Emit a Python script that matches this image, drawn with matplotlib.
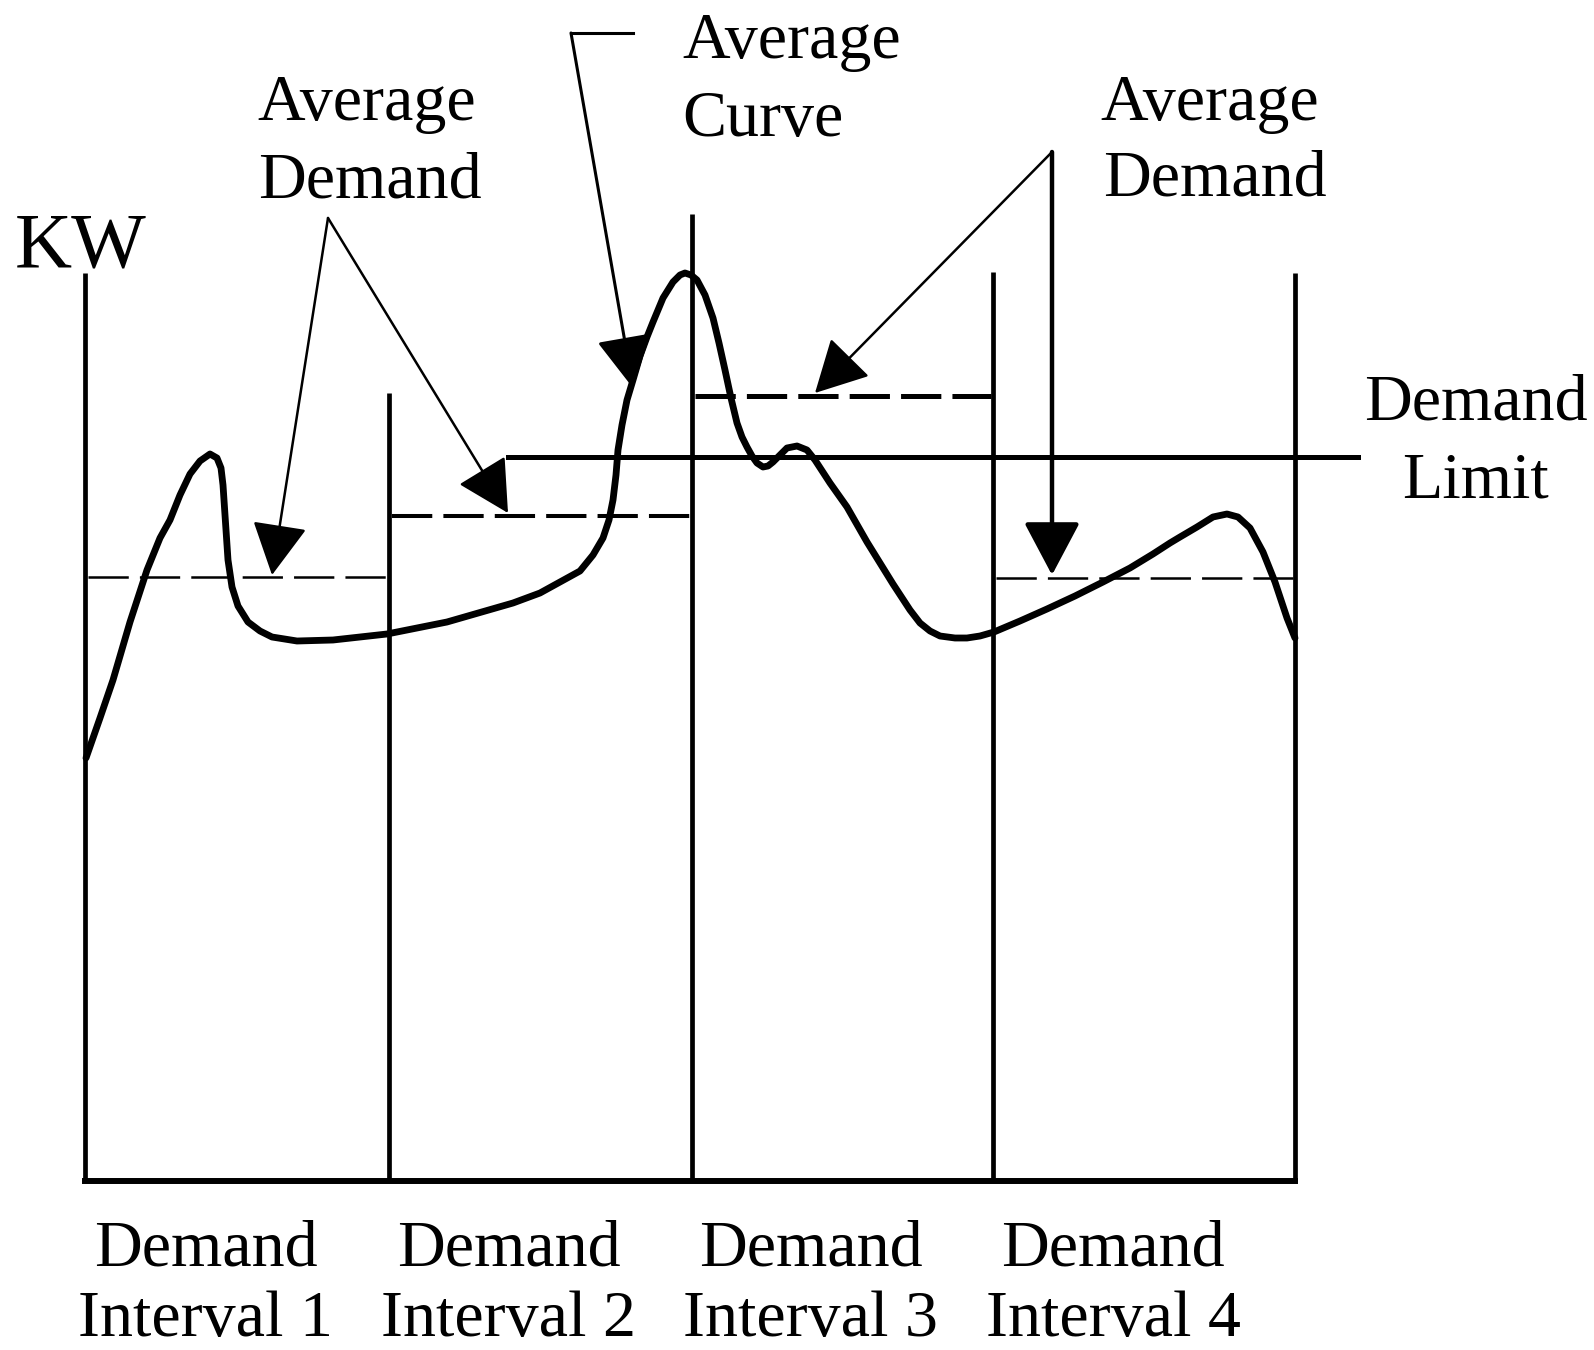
import numpy as np
import matplotlib.pyplot as plt

plt.rcParams['font.family'] = ['Liberation Serif', 'DejaVu Serif']
plt.rcParams['lines.scale_dashes'] = False

# interval boundaries (x) and the top of each vertical line (y, picture units)
edges = [85, 389, 692, 993, 1295]
edge_tops = [273, 393, 214, 272, 273]
base_y = 1181

# average demand of each interval and the limit
avg_demand = [577, 516, 396, 578]
avg_lw = [1.8, 2.9, 3.6, 1.8]
limit_y = 457
limit_x = [508, 1358]

# load curve
curve_x = [86, 100, 113, 130, 147, 160, 170, 180, 190, 200, 210, 217, 221, 223,
           224, 226, 228, 232, 238, 248, 260, 272, 297, 333, 387, 447, 513, 540,
           560, 580, 593, 603, 609, 613, 616, 618, 622, 627, 633, 640, 647, 653,
           663, 673, 680, 685, 691, 697, 705, 713, 719, 725, 731, 737, 742, 747,
           752, 757, 763, 768, 773, 780, 787, 797, 807, 815, 830, 847, 867, 893,
           910, 920, 930, 940, 955, 967, 980, 994, 1020, 1047, 1075, 1103, 1130,
           1153, 1170, 1180, 1197, 1213, 1227, 1238, 1250, 1263, 1275, 1287, 1295]
curve_y = [758, 718, 680, 622, 570, 538, 520, 495, 474, 461, 454, 458, 468, 485,
           500, 530, 560, 587, 606, 622, 631, 637, 641, 640, 634, 622, 603, 593,
           582, 571, 555, 538, 520, 500, 475, 450, 425, 400, 380, 356, 337, 322,
           298, 282, 275, 273, 275, 280, 295, 318, 343, 370, 398, 423, 437, 447,
           456, 463, 467, 466, 462, 455, 448, 446, 450, 460, 483, 507, 542, 584,
           610, 623, 631, 636, 638, 638, 636, 632, 621, 609, 596, 582, 568, 554,
           543, 537, 527, 517, 514, 517, 528, 552, 582, 618, 638]

# labels
interval_names = ['Interval 1', 'Interval 2', 'Interval 3', 'Interval 4']
interval_label_x = [206, 509, 811, 1113]

fig = plt.figure(figsize=(15.94, 13.5), dpi=100)
ax = fig.add_axes([0, 0, 1, 1])
ax.set_xlim(0, 1594)
ax.set_ylim(1350, 0)
ax.axis('off')

# frame
ax.plot([edges[0], edges[-1]], [base_y, base_y], color='k', lw=4.3,
        solid_capstyle='projecting')
for x, top in zip(edges, edge_tops):
    ax.plot([x, x], [top, base_y], color='k', lw=3.4, solid_capstyle='butt')

# averages (dashed) and demand limit
for i, lvl in enumerate(avg_demand):
    ax.plot([edges[i] + 3, edges[i + 1] - 2], [lvl, lvl], color='k', lw=avg_lw[i],
            linestyle=(0, (29, 8)))
ax.plot(limit_x, [limit_y, limit_y], color='k', lw=3.6)

# curve
ax.plot(curve_x, curve_y, color='k', lw=4.9, solid_joinstyle='round',
        solid_capstyle='round')

# arrows
def arrow(start, end, lw=1.8):
    ax.annotate('', xy=end, xytext=start,
                arrowprops=dict(arrowstyle='-|>,head_length=3.3,head_width=1.75',
                                mutation_scale=10, lw=lw, color='k',
                                shrinkA=0, shrinkB=0))

apex_left = (328, 218)
arrow(apex_left, (272, 575))
arrow(apex_left, (508, 513))

ax.plot([633, 571], [33, 33], color='k', lw=2.2)
arrow((571, 33), (633, 388), lw=2.2)

apex_right = (1052, 152)
arrow(apex_right, (815, 393))
arrow(apex_right, (1052, 575), lw=3.2)

# text
fs = 47.5
ax.text(257, 120, 'Average', fontsize=fs, va='baseline', ha='left')
ax.text(258, 198, 'Demand', fontsize=fs, va='baseline', ha='left')
ax.text(682, 58, 'Average', fontsize=fs, va='baseline', ha='left')
ax.text(682, 136, 'Curve', fontsize=fs, va='baseline', ha='left')
ax.text(1100, 120, 'Average', fontsize=fs, va='baseline', ha='left')
ax.text(1103, 196, 'Demand', fontsize=fs, va='baseline', ha='left')
ax.text(1476, 420, 'Demand', fontsize=fs, va='baseline', ha='center')
ax.text(1476, 498, 'Limit', fontsize=fs, va='baseline', ha='center')
ax.text(15, 267, 'KW', fontsize=57, va='baseline', ha='left')

for x, name in zip(interval_label_x, interval_names):
    ax.text(x, 1266, 'Demand', fontsize=fs, va='baseline', ha='center')
    ax.text(x, 1336, name, fontsize=fs, va='baseline', ha='center')

fig.savefig('out.png', dpi=100)
